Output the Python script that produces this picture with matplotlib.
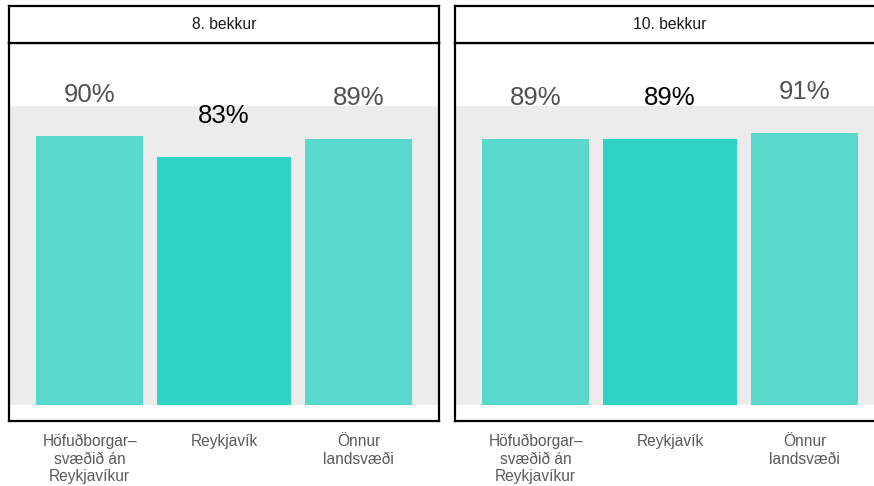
import matplotlib
matplotlib.use("Agg")
import matplotlib.pyplot as plt

plt.rcParams["font.family"] = ["Liberation Sans", "DejaVu Sans"]

# Data
grades = ["8. bekkur", "10. bekkur"]
regions = ["Höfuðborgar–\nsvæðið án\nReykjavíkur", "Reykjavík", "Önnur\nlandsvæði"]
values_8 = [90, 83, 89]
values_10 = [89, 89, 91]
highlight = "Reykjavík"

base_color = "#5AD8CC"
hi_color = "#2ED3C3"
band_color = "#ECECEC"

W, H = 874, 486
fig = plt.figure(figsize=(W / 100, H / 100), dpi=100)


def px_axes(x0, y0, x1, y1):
    return fig.add_axes([x0 / W, 1 - y1 / H, (x1 - x0) / W, (y1 - y0) / H])


panels = [(9, 439, values_8, grades[0]), (455, 885, values_10, grades[1])]
strip_top, strip_bot, panel_bot = 5.7, 43, 421

for x0, x1, vals, title in panels:
    ax = px_axes(x0, strip_bot, x1, panel_bot)
    ax.set_xlim(-0.6, 2.6)
    ax.set_ylim(-5.5, 121)
    ax.axhspan(0, 100, color=band_color, zorder=0, lw=0)
    xs = range(len(regions))
    for x, r, v in zip(xs, regions, vals):
        is_hi = r == highlight
        ax.bar(x, v, width=1.0 if is_hi else 0.8,
               color=hi_color if is_hi else base_color, zorder=2)
        ax.text(x, v + 11.3, f"{v}%", ha="center", va="baseline",
                fontsize=18.5, color="#000000" if is_hi else "#505050",
                zorder=3)
    ax.set_xticks(list(xs))
    ax.set_xticklabels(regions, fontsize=11.2, color="#5A5A5A",
                       linespacing=1.2, multialignment="center")
    ax.tick_params(axis="x", length=0, pad=9.5)
    ax.set_yticks([])
    for s in ax.spines.values():
        s.set_linewidth(1.6)
        s.set_color("black")

    sax = px_axes(x0, strip_top, x1, strip_bot)
    sax.set_xticks([])
    sax.set_yticks([])
    for s in sax.spines.values():
        s.set_linewidth(1.6)
        s.set_color("black")
    sax.text(0.5, 0.5, title, ha="center", va="center", fontsize=11.3,
             color="#1A1A1A", transform=sax.transAxes)

fig.savefig("out.png", dpi=100, facecolor="white")
